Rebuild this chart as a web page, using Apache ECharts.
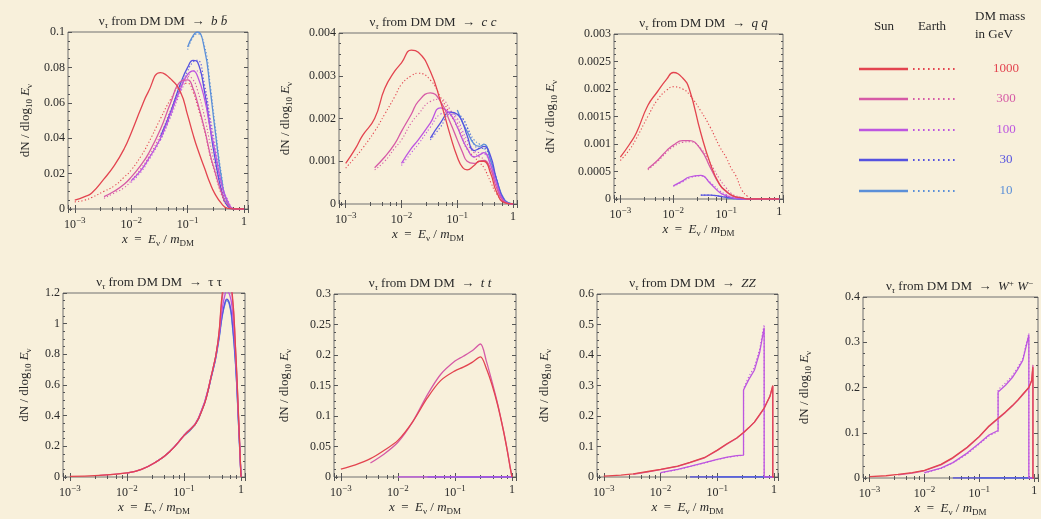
<!DOCTYPE html>
<html>
<head>
<meta charset="utf-8">
<script src="https://cdn.jsdelivr.net/npm/echarts@6.0.0/dist/echarts.min.js"></script>
<style>
  html, body { margin: 0; padding: 0; background: #f8f0db; }
  #chart { width: 1041px; height: 519px; }
</style>
</head>
<body>
<div id="chart"></div>
<script>
const _ = null;
const masses = ['1000', '300', '100', '30', '10'];
const massColors = ['#e3444f', '#d65aa6', '#bd55e0', '#5552e0', '#5b8fd8'];

// x = E_nu / m_DM sample points, top row
const xTop = [0.001, 0.0015, 0.002, 0.0033, 0.005, 0.0075, 0.01, 0.015, 0.02, 0.033, 0.05, 0.075, 0.1, 0.125, 0.15, 0.2, 0.25, 0.3, 0.4, 0.5, 0.7, 1];

// DM DM -> b bbar  (rows: 1000, 300, 100, 30, 10 GeV)
const bbSun = [
  [0.005, 0.007, 0.009, 0.017, 0.0245, 0.034, 0.043, 0.057, 0.066, 0.077, 0.0735, 0.066, 0.053, 0.042, 0.034, 0.023, 0.0145, 0.009, 0.003, 0.0005, 0, 0],
  [_, _, _, 0.007, 0.010, 0.014, 0.018, 0.025, 0.031, 0.045, 0.060, 0.072, 0.073, 0.068, 0.060, 0.045, 0.031, 0.022, 0.009, 0.003, 0, 0],
  [_, _, _, _, _, _, 0.016, 0.022, 0.028, 0.040, 0.054, 0.068, 0.076, 0.078, 0.075, 0.062, 0.046, 0.034, 0.014, 0.005, 0, 0],
  [_, _, _, _, _, _, _, _, _, 0.041, 0.055, 0.071, 0.080, 0.084, 0.083, 0.066, 0.046, 0.030, 0.010, 0.002, 0, 0],
  [_, _, _, _, _, _, _, _, _, _, _, _, 0.0915, 0.098, 0.100, 0.090, 0.068, 0.047, 0.017, 0.004, 0, 0]
];
const bbEarth = [
  [0.004, 0.005, 0.0065, 0.010, 0.013, 0.018, 0.022, 0.030, 0.037, 0.051, 0.062, 0.070, 0.071, 0.066, 0.058, 0.044, 0.030, 0.021, 0.008, 0.002, 0, 0],
  [_, _, _, 0.006, 0.009, 0.012, 0.016, 0.023, 0.029, 0.042, 0.056, 0.069, 0.075, 0.073, 0.067, 0.052, 0.037, 0.026, 0.011, 0.004, 0, 0],
  [_, _, _, _, _, _, 0.015, 0.021, 0.027, 0.039, 0.052, 0.066, 0.074, 0.078, 0.078, 0.068, 0.052, 0.038, 0.016, 0.006, 0, 0],
  [_, _, _, _, _, _, _, _, _, 0.039, 0.053, 0.069, 0.078, 0.083, 0.084, 0.070, 0.050, 0.034, 0.012, 0.003, 0, 0],
  [_, _, _, _, _, _, _, _, _, _, _, _, 0.090, 0.097, 0.099, 0.092, 0.071, 0.050, 0.019, 0.005, 0, 0]
];

// DM DM -> c cbar
const ccSun = [
  [0.00095, 0.0013, 0.0016, 0.0020, 0.0027, 0.0031, 0.0033, 0.0036, 0.00355, 0.0031, 0.0024, 0.0016, 0.0011, 0.00085, 0.0008, 0.0009, 0.001, 0.001, 0.0007, 0.0003, 0.00003, 0],
  [_, _, _, 0.00085, 0.0011, 0.0014, 0.0017, 0.0021, 0.0024, 0.0026, 0.0024, 0.0019, 0.0015, 0.0012, 0.001, 0.00095, 0.001, 0.00102, 0.0008, 0.0004, 0.00005, 0],
  [_, _, _, _, _, _, 0.00095, 0.0013, 0.0015, 0.0019, 0.00225, 0.0021, 0.0018, 0.0015, 0.0013, 0.0011, 0.00115, 0.0012, 0.0009, 0.0005, 0.00006, 0],
  [_, _, _, _, _, _, _, _, _, 0.00154, 0.0019, 0.00215, 0.0021, 0.0019, 0.0016, 0.00125, 0.0013, 0.00135, 0.0011, 0.0006, 0.00008, 0],
  [_, _, _, _, _, _, _, _, _, _, _, _, 0.0022, 0.0019, 0.0017, 0.0014, 0.00135, 0.0014, 0.001, 0.0006, 0.0001, 0]
];
const ccEarth = [
  [0.00084, 0.0011, 0.0013, 0.0017, 0.0021, 0.0025, 0.0028, 0.003, 0.00306, 0.0029, 0.0025, 0.0021, 0.0018, 0.0015, 0.00128, 0.0011, 0.00097, 0.00085, 0.0005, 0.00025, 0.00004, 0],
  [_, _, _, 0.0008, 0.001, 0.0013, 0.0015, 0.0019, 0.0021, 0.0024, 0.00245, 0.0022, 0.0019, 0.0016, 0.0014, 0.0012, 0.0011, 0.00105, 0.0008, 0.00045, 0.00006, 0],
  [_, _, _, _, _, _, 0.0009, 0.0012, 0.0014, 0.0018, 0.0021, 0.00215, 0.002, 0.0017, 0.0015, 0.00125, 0.0012, 0.00118, 0.0009, 0.0005, 0.00007, 0],
  [_, _, _, _, _, _, _, _, _, 0.0015, 0.0018, 0.0021, 0.0021, 0.002, 0.0018, 0.0014, 0.0013, 0.0013, 0.001, 0.0006, 0.0001, 0],
  [_, _, _, _, _, _, _, _, _, _, _, _, 0.0021, 0.002, 0.0018, 0.0015, 0.0014, 0.0013, 0.0009, 0.0005, 0.0001, 0]
];

// DM DM -> q qbar
const qqSun = [
  [0.00076, 0.001, 0.0012, 0.0017, 0.00195, 0.00218, 0.0023, 0.0022, 0.002, 0.0012, 0.00064, 0.00026, 0.00014, 0.00007, 0.00004, 0.00002, 0, 0, 0, 0, 0, 0],
  [_, _, _, 0.00055, 0.0007, 0.00088, 0.00098, 0.00106, 0.00106, 0.0009, 0.00057, 0.00026, 0.00013, 0.00007, 0.00004, 0.00002, 0, 0, 0, 0, 0, 0],
  [_, _, _, _, _, _, 0.00024, 0.00033, 0.0004, 0.00043, 0.00028, 0.00012, 0.00006, 0.00003, 0.00001, 0, 0, 0, 0, 0, 0, 0],
  [_, _, _, _, _, _, _, _, _, 0.00007, 0.00007, 0.00005, 0.00003, 0.00002, 0.00001, 0, 0, 0, 0, 0, 0, 0],
  [_, _, _, _, _, _, _, _, _, _, _, _, 0.00002, 0.00001, 0, 0, 0, 0, 0, 0, 0, 0]
];
const qqEarth = [
  [0.0007, 0.0009, 0.0011, 0.0015, 0.0018, 0.00198, 0.00204, 0.002, 0.0019, 0.0016, 0.0013, 0.00095, 0.00075, 0.00055, 0.00043, 0.00015, 0.00005, 0, 0, 0, 0, 0],
  [_, _, _, 0.00053, 0.00068, 0.00085, 0.00095, 0.00103, 0.00104, 0.00092, 0.00065, 0.00036, 0.0002, 0.0001, 0.00006, 0.00002, 0, 0, 0, 0, 0, 0],
  [_, _, _, _, _, _, 0.00023, 0.00031, 0.00038, 0.00042, 0.0003, 0.00015, 0.00008, 0.00004, 0.00002, 0, 0, 0, 0, 0, 0, 0],
  [_, _, _, _, _, _, _, _, _, 0.00007, 0.00007, 0.00005, 0.00004, 0.00003, 0.00001, 0, 0, 0, 0, 0, 0, 0],
  [_, _, _, _, _, _, _, _, _, _, _, _, 0.00002, 0.00001, 0, 0, 0, 0, 0, 0, 0, 0]
];

// DM DM -> tau tau
const xTau = [0.001, 0.0033, 0.01, 0.018, 0.033, 0.056, 0.1, 0.18, 0.32, 0.4, 0.47, 0.525, 0.56, 0.63, 0.7, 0.8, 0.9, 1];
const tauSun = [
  [0.004, 0.011, 0.027, 0.05, 0.1, 0.165, 0.27, 0.38, 0.70, 0.90, 1.2, 1.27, 1.28, 1.25, 1.2, 0.85, 0.42, 0],
  [_, 0.011, 0.027, 0.05, 0.1, 0.165, 0.27, 0.385, 0.70, 0.90, 1.17, 1.25, 1.27, 1.24, 1.18, 0.84, 0.41, 0],
  [_, _, 0.026, 0.05, 0.1, 0.165, 0.272, 0.385, 0.70, 0.89, 1.1, 1.19, 1.21, 1.19, 1.1, 0.8, 0.4, 0],
  [_, _, _, _, 0.1, 0.165, 0.27, 0.38, 0.69, 0.88, 1.06, 1.14, 1.16, 1.13, 1.02, 0.75, 0.37, 0],
  [_, _, _, _, _, _, 0.27, 0.38, 0.69, 0.87, 1.05, 1.13, 1.15, 1.12, 1.0, 0.74, 0.36, 0]
];

// DM DM -> t tbar
const xTt = [0.001, 0.0018, 0.0033, 0.0056, 0.01, 0.018, 0.033, 0.056, 0.1, 0.14, 0.2, 0.28, 0.355, 0.45, 0.56, 0.71, 0.83, 0.93, 1];
const ttSun = [
  [0.013, 0.02, 0.03, 0.043, 0.06, 0.09, 0.13, 0.158, 0.174, 0.18, 0.188, 0.197, 0.178, 0.15, 0.118, 0.075, 0.042, 0.015, 0],
  [_, _, 0.023, 0.037, 0.057, 0.09, 0.135, 0.168, 0.19, 0.198, 0.207, 0.218, 0.19, 0.155, 0.12, 0.076, 0.043, 0.016, 0],
  [_, _, _, _, 0, 0, 0, 0, 0, 0, 0, 0, 0, 0, 0, 0, 0, 0, 0],
  [_, _, _, _, _, _, 0, 0, 0, 0, 0, 0, 0, 0, 0, 0, 0, 0, 0],
  [_, _, _, _, _, _, _, _, 0, 0, 0, 0, 0, 0, 0, 0, 0, 0, 0]
];

// DM DM -> Z Z
const xZz = [0.001, 0.002, 0.0033, 0.006, 0.01, 0.02, 0.033, 0.06, 0.1, 0.15, 0.22, 0.29, 0.29, 0.36, 0.45, 0.56, 0.67, 0.67, 0.75, 0.85, 0.95, 0.95, 1];
const zzSun = [
  [0.003, 0.006, 0.01, 0.018, 0.025, 0.036, 0.048, 0.064, 0.088, 0.11, 0.128, 0.146, 0.146, 0.162, 0.18, 0.205, 0.226, 0.226, 0.245, 0.265, 0.3, 0, 0],
  [_, _, 0.009, 0.017, 0.024, 0.035, 0.047, 0.063, 0.087, 0.108, 0.127, 0.145, 0.145, 0.161, 0.179, 0.204, 0.225, 0.225, 0.244, 0.266, 0.298, 0, 0],
  [_, _, _, _, 0.014, 0.025, 0.035, 0.047, 0.058, 0.065, 0.07, 0.072, 0.285, 0.32, 0.35, 0.41, 0.49, 0, 0, 0, 0, 0, 0],
  [_, _, _, _, _, _, 0, 0, 0, 0, 0, 0, 0, 0, 0, 0, 0, 0, 0, 0, 0, 0, 0],
  [_, _, _, _, _, _, _, _, 0, 0, 0, 0, 0, 0, 0, 0, 0, 0, 0, 0, 0, 0, 0]
];
const zzEarth = [
  _, _,
  [_, _, _, _, 0.013, 0.024, 0.034, 0.046, 0.057, 0.064, 0.069, 0.071, 0.29, 0.33, 0.36, 0.42, 0.5, 0, 0, 0, 0, 0, 0],
  _, _
];

// DM DM -> W+ W-
const xWw = [0.001, 0.002, 0.0033, 0.006, 0.01, 0.02, 0.033, 0.06, 0.1, 0.15, 0.22, 0.22, 0.3, 0.4, 0.5, 0.62, 0.8, 0.8, 0.9, 0.95, 0.95, 1];
const wwSun = [
  [0.003, 0.005, 0.008, 0.012, 0.017, 0.03, 0.045, 0.068, 0.092, 0.115, 0.132, 0.132, 0.146, 0.16, 0.172, 0.185, 0.2, 0.2, 0.215, 0.245, 0, 0],
  [_, _, 0.007, 0.011, 0.016, 0.029, 0.044, 0.067, 0.091, 0.114, 0.131, 0.131, 0.145, 0.159, 0.171, 0.184, 0.2, 0.2, 0.216, 0.25, 0, 0],
  [_, _, _, _, 0.012, 0.022, 0.034, 0.055, 0.077, 0.095, 0.105, 0.19, 0.205, 0.222, 0.24, 0.26, 0.316, 0, 0, 0, 0, 0],
  [_, _, _, _, _, _, 0, 0, 0, 0, 0, 0, 0, 0, 0, 0, 0, 0, 0, 0, 0, 0],
  [_, _, _, _, _, _, _, _, 0, 0, 0, 0, 0, 0, 0, 0, 0, 0, 0, 0, 0, 0]
];
const wwEarth = [
  _, _,
  [_, _, _, _, 0.011, 0.021, 0.033, 0.053, 0.075, 0.093, 0.103, 0.195, 0.21, 0.226, 0.244, 0.264, 0.32, 0, 0, 0, 0, 0],
  _, _
];

const serif = '"Liberation Serif", "DejaVu Serif", serif';
const ink = '#2a2a2a';
const xMin = Math.pow(10, -3.12);
const xMax = Math.pow(10, 0.07);

// box = [left, top, width, height] of each frame
const panels = [
  { ch: '{i|b} {i|b\u0304}', xs: xTop, sun: bbSun, earth: bbEarth, yMax: 0.1, yStep: 0.02, box: [68, 32, 180, 177], smooth: 0.5, yGap: 34 },
  { ch: '{i|c} {i|c}', xs: xTop, sun: ccSun, earth: ccEarth, yMax: 0.004, yStep: 0.001, box: [339, 33, 178, 171], smooth: 0.5, yGap: 45 },
  { ch: '{i|q} {i|q\u0304}', xs: xTop, sun: qqSun, earth: qqEarth, yMax: 0.003, yStep: 0.0005, box: [614, 34, 169, 165], smooth: 0.5, yGap: 55 },
  { ch: '\u03c4 \u03c4', xs: xTau, sun: tauSun, earth: null, yMax: 1.2, yStep: 0.2, box: [63, 293, 182, 184], smooth: 0.5, yGap: 30 },
  { ch: '{i|t} {i|t}', xs: xTt, sun: ttSun, earth: null, yMax: 0.3, yStep: 0.05, box: [334, 294, 182, 183], smooth: 0.3, yGap: 41 },
  { ch: '{i|ZZ}', xs: xZz, sun: zzSun, earth: zzEarth, yMax: 0.6, yStep: 0.1, box: [597, 294, 181, 183], smooth: false, yGap: 44 },
  { ch: '{i|W}{sp|+} {i|W}{sp|\u2212}', xs: xWw, sun: wwSun, earth: wwEarth, yMax: 0.4, yStep: 0.1, box: [863, 297, 183, 181], smooth: false, yGap: 50 }
];

const richText = {
  i: { fontFamily: serif, fontStyle: 'italic', fontSize: 13, color: ink },
  t: { fontFamily: serif, fontSize: 13, color: ink },
  s: { fontFamily: serif, fontSize: 9, color: ink, padding: [7, 0, 0, 0] },
  si: { fontFamily: serif, fontSize: 9, fontStyle: 'italic', color: ink, padding: [7, 0, 0, 0] },
  sp: { fontFamily: serif, fontSize: 9, color: ink, padding: [0, 0, 7, 0] },
  sup: { fontFamily: serif, fontSize: 9, color: ink, padding: [0, 0, 8, 0] }
};

function decadeLabel(v) {
  const lg = Math.log10(v);
  const e = Math.round(lg);
  if (Math.abs(lg - e) > 1e-6) return '';
  return e === 0 ? '1' : '10{sup|\u2212' + (-e) + '}';
}

const chart = echarts.init(document.getElementById('chart'), null, { renderer: 'canvas' });
const grids = [], xAxes = [], yAxes = [], series = [], titles = [];
const tickStyle = { color: '#555', width: 1 };

panels.forEach((p, i) => {
  const [left, top, width, height] = p.box;
  grids.push({ left, top, width, height, show: true, borderColor: '#707070', borderWidth: 1, backgroundColor: 'transparent' });
  titles.push({
    text: '{t|\u03bd}{si|\u03c4}{t| from DM DM  \u2192  }' + (p.ch.startsWith('{') ? p.ch : '{t|' + p.ch + '}'),
    left: left + width / 2,
    top: top - 23,
    textAlign: 'center',
    textStyle: { fontFamily: serif, fontSize: 13, fontWeight: 'normal', color: ink, rich: richText }
  });
  const xBase = {
    type: 'log', logBase: 10, min: xMin, max: xMax, gridIndex: i,
    axisLine: { show: false }, splitLine: { show: false },
    axisTick: { inside: true, length: 4, lineStyle: tickStyle },
    minorTick: { show: true, splitNumber: 5, length: 2, lineStyle: tickStyle }
  };
  xAxes.push(Object.assign({}, xBase, {
    position: 'bottom',
    axisLabel: { formatter: decadeLabel, fontFamily: serif, fontSize: 12, color: ink, margin: 7, rich: richText, showMinLabel: true, showMaxLabel: true },
    name: '{i|x}{t|  =  }{i|E}{s|\u03bd}{t| / }{i|m}{s|DM}',
    nameLocation: 'middle', nameGap: 23,
    nameTextStyle: { fontFamily: serif, fontSize: 13, color: ink, rich: richText }
  }));
  xAxes.push(Object.assign({}, xBase, { position: 'top', axisLabel: { show: false } }));
  const yBase = {
    type: 'value', min: 0, max: p.yMax, interval: p.yStep, gridIndex: i,
    axisLine: { show: false }, splitLine: { show: false },
    axisTick: { inside: true, length: 4, lineStyle: tickStyle },
    minorTick: { show: true, splitNumber: 4, length: 2, lineStyle: tickStyle }
  };
  yAxes.push(Object.assign({}, yBase, {
    position: 'left',
    axisLabel: { fontFamily: serif, fontSize: 12, color: ink, margin: 3 },
    name: '{t|dN / dlog}{s|10}{t| }{i|E}{s|\u03bd}',
    nameLocation: 'middle', nameRotate: 90, nameGap: p.yGap,
    nameTextStyle: { fontFamily: serif, fontSize: 13, color: ink, rich: richText }
  }));
  yAxes.push(Object.assign({}, yBase, { position: 'right', axisLabel: { show: false } }));

  const addCurve = (ys, k, dotted) => {
    if (!ys) return;
    series.push({
      type: 'line',
      xAxisIndex: 2 * i, yAxisIndex: 2 * i,
      data: p.xs.map((x, j) => [x, ys[j]]).filter(d => d[1] !== null),
      showSymbol: false,
      smooth: p.smooth,
      clip: true,
      silent: true,
      lineStyle: { color: massColors[k], width: dotted ? 1.1 : 1.3, type: dotted ? [1.2, 2.2] : 'solid' },
      z: dotted ? 2 : 3
    });
  };
  for (let k = masses.length - 1; k >= 0; k--) {
    if (p.earth) addCurve(p.earth[k], k, true);
  }
  for (let k = masses.length - 1; k >= 0; k--) addCurve(p.sun[k], k, false);
});

// legend panel (Sun / Earth line samples per DM mass)
const legendRows = [69, 99, 130, 160, 191];
const legendFont = '13px ' + serif;
const graphics = [
  { type: 'text', x: 884, y: 27, style: { text: 'Sun', font: legendFont, fill: ink, align: 'center', verticalAlign: 'middle' } },
  { type: 'text', x: 932, y: 27, style: { text: 'Earth', font: legendFont, fill: ink, align: 'center', verticalAlign: 'middle' } },
  { type: 'text', x: 975, y: 17, style: { text: 'DM mass', font: legendFont, fill: ink, align: 'left', verticalAlign: 'middle' } },
  { type: 'text', x: 975, y: 35, style: { text: 'in GeV', font: legendFont, fill: ink, align: 'left', verticalAlign: 'middle' } }
];
masses.forEach((m, k) => {
  const y = legendRows[k];
  graphics.push({ type: 'line', shape: { x1: 859, y1: y, x2: 908, y2: y }, style: { stroke: massColors[k], lineWidth: 2.6 } });
  graphics.push({ type: 'line', shape: { x1: 913, y1: y, x2: 958, y2: y }, style: { stroke: massColors[k], lineWidth: 1.8, lineDash: [1.6, 3.4] } });
  graphics.push({ type: 'text', x: 1006, y: y, style: { text: m, font: legendFont, fill: massColors[k], align: 'center', verticalAlign: 'middle' } });
});

chart.setOption({
  backgroundColor: '#f8f0db',
  animation: false,
  title: titles,
  grid: grids,
  xAxis: xAxes,
  yAxis: yAxes,
  series: series,
  graphic: graphics
});
</script>
</body>
</html>
